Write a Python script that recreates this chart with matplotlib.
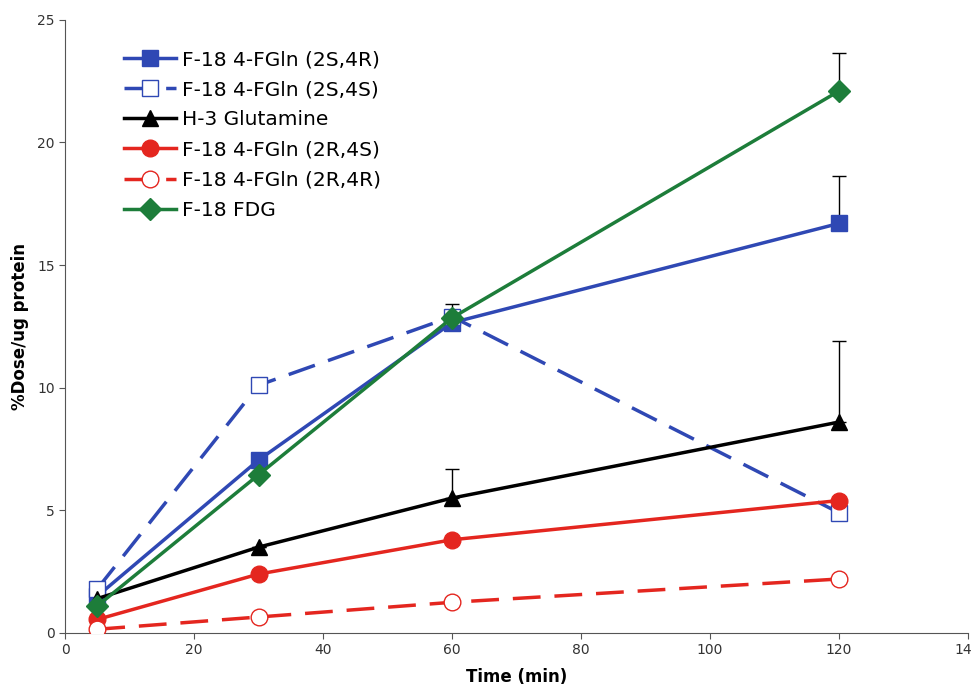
import matplotlib
matplotlib.use("Agg")
import matplotlib.pyplot as plt
import numpy as np

# ─── Data ────────────────────────────────────────────────────
time_min = [5, 30, 60, 120]

fgln_2s4r = [1.5, 7.05, 12.65, 16.7]
fgln_2s4s = [1.8, 10.1, 12.9, 4.9]
glutamine = [1.4, 3.5, 5.5, 8.6]
fgln_2r4s = [0.55, 2.4, 3.8, 5.4]
fgln_2r4r = [0.15, 0.65, 1.25, 2.2]
fdg = [1.1, 6.45, 12.85, 22.1]

# upper error only (SD)
err_2s4r = [0.0, 0.0, 0.0, 1.95]
err_2s4s = [0.0, 0.05, 0.0, 0.0]
err_glut = [0.0, 0.0, 1.2, 3.3]
err_2r4s = [0.0, 0.0, 0.0, 0.0]
err_2r4r = [0.0, 0.05, 0.05, 0.1]
err_fdg = [0.0, 0.0, 0.55, 1.55]

labels = ["F-18 4-FGln (2S,4R)", "F-18 4-FGln (2S,4S)", "H-3 Glutamine",
          "F-18 4-FGln (2R,4S)", "F-18 4-FGln (2R,4R)", "F-18 FDG"]

BLUE = "#2f48b4"
RED = "#e4261f"
GREEN = "#1d7d3a"
BLACK = "#000000"
DASH = (0, (8, 4))

series = [
    (fgln_2s4r, err_2s4r, BLUE, "-", "s", True, 12),
    (fgln_2s4s, err_2s4s, BLUE, DASH, "s", False, 12),
    (glutamine, err_glut, BLACK, "-", "^", True, 12),
    (fgln_2r4s, err_2r4s, RED, "-", "o", True, 12),
    (fgln_2r4r, err_2r4r, RED, DASH, "o", False, 12),
    (fdg, err_fdg, GREEN, "-", "D", True, 11),
]

# ─── Plot ────────────────────────────────────────────────────
fig = plt.figure(figsize=(9.71, 6.85), dpi=100)
ax = fig.add_axes([0.067, 0.076, 0.93, 0.895])

handles = []
for (vals, err, col, ls, mk, filled, ms), lab in zip(series, labels):
    ax.errorbar(time_min, vals, yerr=[np.zeros(len(err)), err], fmt="none",
                ecolor="black", elinewidth=1, capsize=5, capthick=1, zorder=2)
    h, = ax.plot(time_min, vals, color=col, linestyle=ls, linewidth=2.5,
                 marker=mk, markersize=ms, markeredgewidth=1,
                 markerfacecolor=col if filled else "white",
                 markeredgecolor=col, label=lab, zorder=3)
    handles.append(h)

ax.set_xlim(0, 140)
ax.set_ylim(0, 25)
ax.set_xticks(range(0, 141, 20))
ax.set_yticks(range(0, 26, 5))

for side in ("top", "right"):
    ax.spines[side].set_visible(False)
for side in ("left", "bottom"):
    ax.spines[side].set_color("#555555")
ax.tick_params(direction="out", length=4, colors="#555555", labelsize=10,
               labelcolor="#333333")

ax.set_xlabel("Time (min)", fontsize=12, fontweight="bold", labelpad=8)
ax.set_ylabel("%Dose/ug protein", fontsize=12, fontweight="bold", labelpad=6)

leg = ax.legend(handles=handles, loc="upper left", bbox_to_anchor=(0.045, 0.98),
                frameon=False, fontsize=14.5, handlelength=2.6, labelspacing=0.55,
                handletextpad=0.3)

fig.savefig("out.png", dpi=100)
plt.close(fig)
